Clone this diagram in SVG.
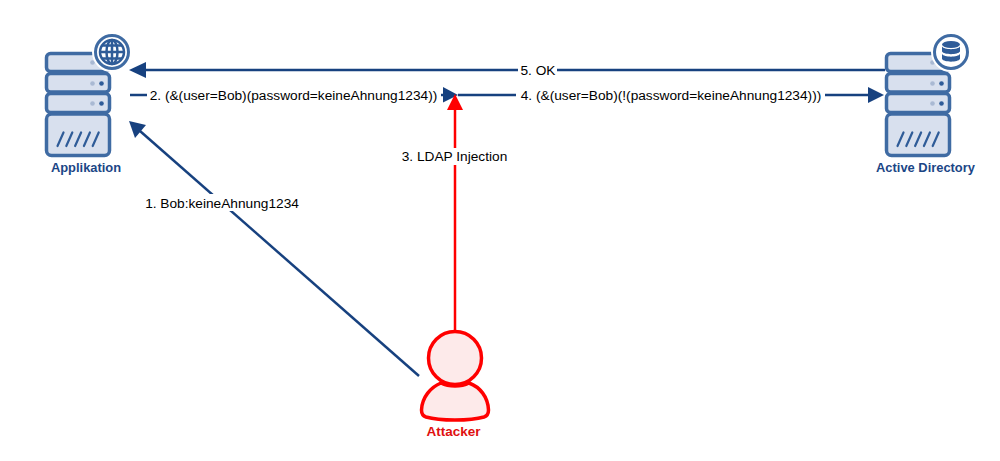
<svg xmlns="http://www.w3.org/2000/svg" width="1000" height="461" viewBox="0 0 1000 461">
<style>
text{font-family:"Liberation Sans",Arial,sans-serif}
.lb{font-size:13.700px;fill:#000;text-anchor:middle}
.nm{font-size:12.900px;font-weight:bold;text-anchor:middle;fill:#1b4686}
.u{fill:#d8e0ee;stroke:#3f6ba3;stroke-width:3.500}
.d1{fill:#a9b9d3}.d2{fill:#2f5c98}
.st{fill:none;stroke:#2f5c98;stroke-width:2.200;stroke-linecap:round}
.c{fill:none;stroke:#17417f;stroke-width:2.500}
.r{fill:none;stroke:#f00;stroke-width:2.500}
.bg{fill:#fff}
</style>
<defs>
<g id="srv">
<rect class="u" x="0" y="0" width="63" height="18" rx="4"/>
<rect class="u" x="0" y="20" width="63" height="18.500" rx="4"/>
<rect class="u" x="0" y="40" width="63" height="19" rx="4"/>
<rect class="u" x="0" y="60.500" width="63" height="41.500" rx="5"/>
<circle class="d1" cx="46" cy="9" r="2.300"/>
<circle class="d1" cx="46" cy="30" r="2.300"/><circle class="d2" cx="55" cy="30" r="2.300"/>
<circle class="d1" cx="46" cy="50" r="2.300"/><circle class="d2" cx="55" cy="50" r="2.300"/>
<path class="st" d="M11 92.500L17 79M19.800 92.500L25.800 79M28.600 92.500L34.600 79M37.400 92.500L43.400 79M46.200 92.500L52.200 79"/>
</g>
</defs>
<g id="connectors">
<path class="c" d="M885 70H143"/><path d="M129 70L146 62V78Z" fill="#17417f"/>
<path class="c" d="M130 95H147"/>
<path class="c" d="M441 95H445"/><path d="M443 87L458 95L443 102.500Z" fill="#17417f"/>
<path class="c" d="M458 95H516"/>
<path class="c" d="M825 95H871"/><path d="M884 95L868 87V103Z" fill="#17417f"/>
<path class="c" d="M419 376L140 131"/><path d="M129 121L146 125L135 138Z" fill="#17417f"/>
<path class="r" d="M455 333V106"/><path d="M455 94L463 110H447Z" fill="#f00"/>
</g>
<g id="label-5"><rect class="bg" x="518" y="62" width="39" height="15"/><text class="lb" x="538" y="74.500">5. OK</text></g>
<g id="label-2"><text class="lb" x="293.500" y="100">2. (&amp;(user=Bob)(password=keineAhnung1234))</text></g>
<g id="label-4"><text class="lb" x="671" y="100">4. (&amp;(user=Bob)(!(password=keineAhnung1234)))</text></g>
<g id="label-1"><rect class="bg" x="143" y="194" width="157" height="17"/><text class="lb" x="222" y="207.500">1. Bob:keineAhnung1234</text></g>
<g id="label-3"><rect class="bg" x="401" y="148" width="107" height="17"/><text class="lb" x="454.500" y="160.500">3. LDAP Injection</text></g>
<g id="applikation">
<use href="#srv" x="46.500" y="53.500"/>
<circle cx="112" cy="52" r="16.500" fill="#fff" stroke="#fff" stroke-width="7"/>
<circle cx="112" cy="52" r="16.500" fill="#fff" stroke="#3f6ba3" stroke-width="3"/>
<g fill="none" stroke="#2f5c98" stroke-width="2.500"><circle cx="112" cy="52" r="12"/><ellipse cx="112" cy="52" rx="5.500" ry="12"/><path d="M112 40V64M100 52H124M102 45.500H122M102 58.500H122"/></g>
<text class="nm" x="86" y="172">Applikation</text>
</g>
<g id="active-directory">
<use href="#srv" x="886.500" y="53.500"/>
<circle cx="951" cy="52" r="16.500" fill="#fff" stroke="#fff" stroke-width="7"/>
<circle cx="951" cy="52" r="16.500" fill="#fff" stroke="#3f6ba3" stroke-width="3"/>
<g fill="#2f5c98"><ellipse cx="951" cy="44.500" rx="9" ry="3.500"/><path d="M942 46.500C944 50 958 50 960 46.500V51.500C958 55 944 55 942 51.500Z"/><path d="M942 54C944 57.500 958 57.500 960 54V59C958 62.500 944 62.500 942 59Z"/></g>
<text class="nm" x="925.500" y="172">Active Directory</text>
</g>
<g id="attacker">
<path d="M421.500 410C422 397 431 387 441 383C449 387 461 387 469 383C480 387 488 397 488.500 410C488.500 414 487 416 484 417C470 421 440 421 426 417C423 416 421.500 414 421.500 410Z" fill="#fdeaea" stroke="#f00" stroke-width="3.500"/>
<circle cx="455" cy="358" r="26.500" fill="#fdeaea" stroke="#f00" stroke-width="3.500"/>
<text x="453.500" y="436" font-size="13.500" font-weight="bold" fill="#e01010" text-anchor="middle">Attacker</text>
</g>
</svg>
